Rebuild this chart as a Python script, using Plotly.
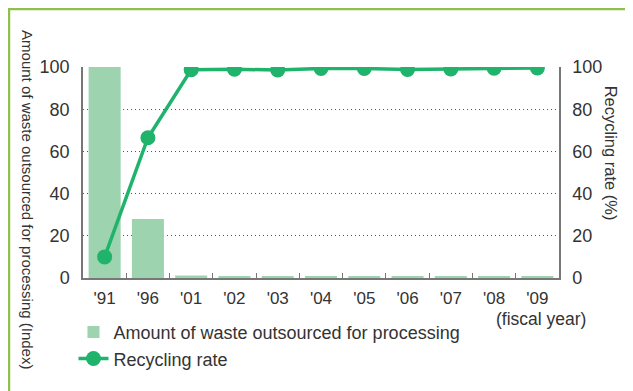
import plotly.graph_objects as go

years = ["'91", "'96", "'01", "'02", "'03", "'04", "'05", "'06", "'07", "'08", "'09"]
waste_index = [100, 28, 1.2, 0.5, 0.5, 0.5, 0.5, 0.5, 0.5, 0.5, 0.5]
recycling_rate = [10, 66.5, 98.7, 98.9, 98.6, 99.3, 99.3, 98.8, 99.1, 99.4, 99.5]

BAR_COLOR = "#9dd3ae"
LINE_COLOR = "#1fb36b"
FRAME_COLOR = "#8dc04f"
TEXT_COLOR = "#333333"
FONT = "Liberation Sans"

fig = go.Figure()

fig.add_trace(go.Bar(
    x=years, y=waste_index,
    name="Amount of waste outsourced for processing",
    marker=dict(color=BAR_COLOR, line=dict(width=0)),
    hoverinfo="skip",
))

fig.add_trace(go.Scatter(
    x=years, y=recycling_rate,
    name="Recycling rate",
    yaxis="y2",
    mode="lines+markers",
    line=dict(color=LINE_COLOR, width=3.5),
    marker=dict(color=LINE_COLOR, size=15),
))

# page body has an 8px margin, so the figure is 8px smaller than the window
fig.update_layout(
    width=625, height=383,
    margin=dict(l=75, r=74, t=59, b=113, autoexpand=False),
    paper_bgcolor="white",
    plot_bgcolor="white",
    font=dict(family=FONT, color=TEXT_COLOR, size=18),
    bargap=0.26,
    showlegend=True,
    legend=dict(
        x=-0.02, y=-0.17, xanchor="left", yanchor="top",
        font=dict(size=18, color=TEXT_COLOR),
        tracegroupgap=0, itemwidth=30,
        bgcolor="rgba(0,0,0,0)",
    ),
    xaxis=dict(
        range=[-0.5, len(years) - 0.5],
        showline=True, linecolor="#777777", linewidth=1.5,
        ticks="inside", tickson="boundaries", ticklen=5, tickcolor="#777777",
        showgrid=False, tickfont=dict(size=17), ticklabelstandoff=4,
        automargin=False,
    ),
    yaxis=dict(
        range=[0, 100], tickvals=[0, 20, 40, 60, 80, 100],
        showline=True, linecolor="#777777", linewidth=1.5,
        showgrid=True, gridcolor="#555555", griddash="1px,3px", gridwidth=1,
        zeroline=False, ticks="", ticklabelstandoff=8, automargin=False,
    ),
    yaxis2=dict(
        range=[0, 100], tickvals=[0, 20, 40, 60, 80, 100],
        overlaying="y", side="right",
        showline=True, linecolor="#777777", linewidth=1.5,
        showgrid=False, zeroline=False, ticks="", ticklabelstandoff=8,
        automargin=False,
    ),
    shapes=[dict(
        type="rect", xref="paper", yref="paper",
        x0=-0.1555, x1=1.147, y0=-0.6, y1=1.275,
        line=dict(color=FRAME_COLOR, width=2.5),
        layer="below",
    )],
    annotations=[
        dict(
            text="Amount of waste outsourced for processing (Index)",
            xref="paper", yref="paper", x=-0.118, y=0.37,
            xanchor="center", yanchor="middle",
            textangle=90, showarrow=False, font=dict(size=15),
        ),
        dict(
            text="Recycling rate (%)",
            xref="paper", yref="paper", x=1.111, y=0.59,
            xanchor="center", yanchor="middle",
            textangle=90, showarrow=False, font=dict(size=16.5),
        ),
        dict(
            text="(fiscal year)",
            xref="paper", yref="paper", x=1.06, y=-0.195,
            xanchor="right", yanchor="middle", showarrow=False,
            font=dict(size=17.5),
        ),
    ],
)

fig.write_html("out.html")
